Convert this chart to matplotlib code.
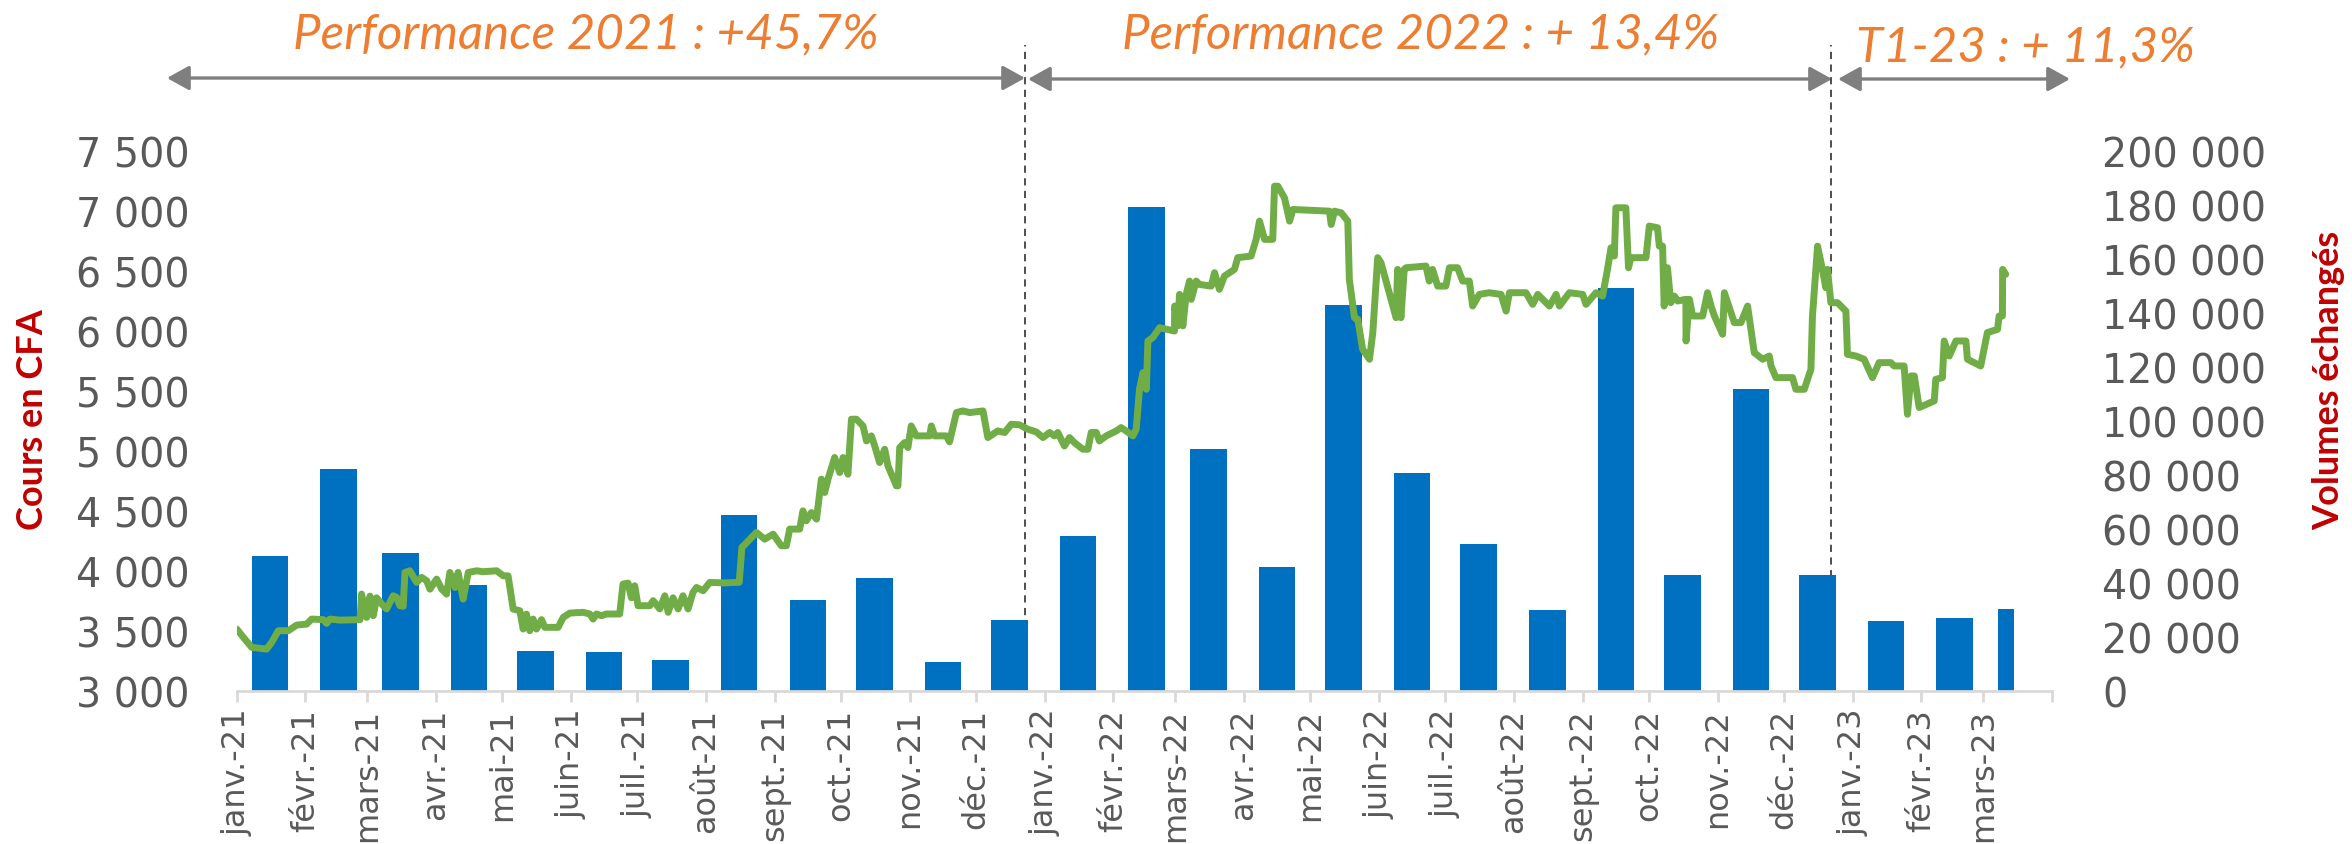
import datetime as dt
import numpy as np
import matplotlib
matplotlib.use("Agg")
import matplotlib.pyplot as plt
import matplotlib.dates as mdates
from matplotlib.patches import FancyArrowPatch
from matplotlib.transforms import blended_transform_factory

# ---------------- data ----------------
month_labels = ["janv.-21", "févr.-21", "mars-21", "avr.-21", "mai-21", "juin-21",
                "juil.-21", "août-21", "sept.-21", "oct.-21", "nov.-21", "déc.-21",
                "janv.-22", "févr.-22", "mars-22", "avr.-22", "mai-22", "juin-22",
                "juil.-22", "août-22", "sept.-22", "oct.-22", "nov.-22", "déc.-22",
                "janv.-23", "févr.-23", "mars-23"]

monthly_volumes = [50000, 82000, 51000, 39200, 14900, 14300, 11500, 65300, 33800,
                   41900, 10600, 26400, 57200, 179000, 89500, 45800, 142800, 80500,
                   54400, 29900, 149000, 43000, 111800, 43000, 25900, 27100, 30500]

# daily share price (days counted from 1 Jan 2021)
price_days = [0, 3, 6.8, 13.5, 15.8, 18.8, 23.3, 27.1, 31.6, 33.9, 39.1, 40.6, 42.1, 46.6,
              55.7, 56.4, 58.7, 60.2, 61.7, 63.2, 66.2, 67.7, 70.7, 72.2, 73.7, 75.2, 76.0,
              78.2, 81.3, 83.5, 85.8, 87.3, 90.3, 92.6, 94.8, 96.3, 98.6, 100.0, 102.3, 104.6,
              108.4, 111.3, 117.4, 120.4, 122.6, 124.9, 127.9, 129.4, 130.9, 132.4, 133.9,
              135.4, 137.7, 139.2, 145.2, 147.5, 150.5, 156.5, 159.5, 161.0, 162.5, 164.8,
              167.0, 173.0, 174.5, 176.8, 178.3, 179.8, 181.3, 186.6, 188.1, 191.1, 193.4,
              194.9, 197.1, 199.4, 201.6, 203.9, 206.1, 207.7, 210.7, 213.7, 220.0, 227.0,
              228.2, 234.8, 238.5, 242.3, 246.0, 248.3, 249.8, 254.3, 255.8, 257.3, 259.6,
              261.9, 264.1, 265.6, 267.1, 270.1, 272.4, 273.9, 276.1, 277.7, 279.9, 282.9,
              284.5, 286.7, 288.2, 290.4, 292.7, 294.2, 298.0, 298.7, 299.5, 301.7, 303.2,
              304.7, 307.0, 313.0, 313.8, 315.3, 320.5, 322.0, 325.1, 328.0, 331.1, 337.1,
              339.3, 341.6, 343.8, 346.9, 349.9, 353.6, 357.4, 361.2, 364.2, 367.2, 369.4,
              370.9, 373.9, 376.2, 378.4, 382.2, 384.5, 386.0, 388.3, 389.7, 392.8, 397.3,
              399.5, 401.8, 404.8, 406.3, 407.8, 409.4, 410.9, 411.6, 413.8, 416.9,
              423.6, 423.7, 425.1, 425.9, 427.4, 428.9, 430.4, 431.2, 433.4, 434.9, 440.2,
              441.7, 443.9, 446.2, 450.7, 452.2, 458.2, 460.5, 462.0, 464.3, 468.0, 468.8,
              470.3, 473.3, 475.6, 477.1, 493.6, 494.4, 495.9, 498.9, 501.9, 502.6, 504.9,
              506.4, 508.6, 511.7, 513.2, 515.4, 516.9, 521.4, 523.7, 524.4, 525.9, 527.4,
              528.2, 537.2, 538.7, 540.2, 542.5, 546.2, 547.8, 551.5, 553.8, 556.8, 558.3,
              561.3, 565.8, 571.1, 573.4, 574.9, 582.4, 585.4, 587.7, 593.0, 596.0, 597.5,
              602.0, 608.0, 609.5, 614.0, 617.0, 619.2, 620.8, 622.3, 623.0, 627.5, 628.7,
              629.8, 636.6, 638.1, 641.8, 642.6, 644.1, 644.8, 646.3, 647.8, 649.4, 650.9,
              654.6, 654.7, 656.2, 657.7, 662.2, 664.4, 666.0, 667.5, 671.2, 672.0, 676.5,
              679.5, 682.5, 685.5, 689.3, 692.3, 693.1, 695.3, 702.8, 704.3, 708.1, 711.1,
              711.8, 714.1, 716.3, 717.8, 718.6, 720.1, 723.1, 726.9, 727.6, 731.4, 735.1,
              738.9, 741.9, 747.2, 748.7, 753.2, 754.7, 756.3, 757.8, 760.0, 766.8, 767.5,
              770.5, 771.3, 773.6, 776.6, 781.1, 781.8, 787.8, 790.8, 795.4, 796.1, 797.6,
              797.7, 799.1]

price_values = [3516, 3447, 3363, 3349, 3405, 3502, 3502, 3549, 3557, 3599, 3594, 3563, 3599, 3590,
                3594, 3807, 3613, 3790, 3627, 3776, 3710, 3683, 3793, 3780, 3710, 3705, 3987,
                4001, 3904, 3946, 3918, 3848, 3932, 3848, 3807, 3987, 3862, 3987, 3765, 3987,
                4001, 3993, 4001, 3959, 3959, 3682, 3668, 3516, 3640, 3502, 3599,
                3516, 3594, 3530, 3530, 3613, 3649, 3655, 3641, 3599, 3641, 3627,
                3641, 3641, 3890, 3898, 3776, 3876, 3710, 3710, 3752, 3683, 3793,
                3655, 3776, 3683, 3793, 3683, 3821, 3862, 3835, 3904, 3900, 3905,
                4195, 4320, 4264, 4306, 4209, 4209, 4348, 4348, 4500, 4417, 4486,
                4431, 4764, 4653, 4764, 4944, 4819, 4944, 4805, 5263, 5263, 5207,
                5082, 5124, 5040, 4902, 5013, 4874, 4708, 4708, 5027, 5068, 5027,
                5207, 5124, 5124, 5207, 5124, 5124, 5074, 5318, 5332, 5318, 5332,
                5110, 5138, 5165, 5152, 5221, 5216, 5179, 5157, 5110, 5152, 5124,
                5152, 5040, 5110, 5068, 5013, 5013, 5152, 5152, 5082, 5124, 5165,
                5193, 5165, 5124, 5179, 5512, 5651, 5512, 5914, 5942, 6025,
                5997, 6205, 6040, 6302, 6040, 6302, 6413, 6261, 6413, 6385, 6371,
                6483, 6344, 6455, 6510, 6608, 6621, 6760, 6912, 6760, 6760, 7203,
                7203, 7106, 6912, 7009, 6995, 6884, 6995, 6981, 6912, 6427, 6108,
                6094, 5845, 5762, 5984, 6608, 6566, 6261, 6108, 6510, 6108, 6510,
                6524, 6538, 6413, 6510, 6371, 6371, 6524, 6524, 6413, 6413, 6205,
                6302, 6316, 6302, 6163, 6316, 6316, 6219, 6302, 6205, 6302, 6205,
                6316, 6302, 6219, 6316, 6288, 6510, 6690, 6621, 7023, 7023, 6524,
                6608, 6608, 6871, 6857, 6704, 6704, 6205, 6524, 6233, 6288, 6247,
                6261, 5914, 6261, 6122, 6122, 6316, 6205, 6122, 5970, 6316, 6067,
                6067, 6205, 5817, 5762, 5789, 5706, 5609, 5609, 5512, 5512, 5678,
                6122, 6704, 6510, 6358, 6510, 6233, 6233, 6163, 5803, 5789, 5762,
                5609, 5734, 5734, 5706, 5706, 5304, 5623, 5623, 5360, 5415, 5595,
                5609, 5914, 5789, 5914, 5914, 5762, 5706, 5984, 6011, 6122, 6122,
                6510, 6469]

period_titles = ["Performance 2021 : +45,7%", "Performance 2022 : + 13,4%", "T1-23 : + 11,3%"]
period_separators = ["2021-12-23", "2022-12-22"]

# ---------------- figure ----------------
W, H = 2352, 845
fig = plt.figure(figsize=(W / 100, H / 100), dpi=100)
ax = fig.add_axes([236.7 / W, 1 - 692 / H, (2052 - 236.7) / W, (692 - 151.5) / H])
ax2 = ax.twinx()
ax.set_zorder(2)
ax2.set_zorder(1)
ax.patch.set_visible(False)

GRAY = "#595959"
start = mdates.date2num(dt.date(2021, 1, 1))
month_starts = [dt.date(2021 + i // 12, i % 12 + 1, 1) for i in range(len(month_labels) + 1)]
month_nums = [mdates.date2num(m) for m in month_starts]

# volume bars (right axis), centred mid-month
bar_x = [m + 15 for m in month_nums[:len(monthly_volumes)]]
bars = ax2.bar(bar_x, monthly_volumes, width=16.5, color="#0070C0", zorder=1)
# last bar truncated at end of available data
last = bars[-1]
last_right = mdates.date2num(dt.date(2023, 3, 15))
last.set_width(last_right - last.get_x())

# price line (left axis)
ax.plot(start + np.array(price_days), price_values, color="#70AD47", lw=5.0,
        solid_joinstyle="round", solid_capstyle="round", zorder=3)

# period separators
trans = blended_transform_factory(ax2.transData, ax2.transAxes)
for d in period_separators:
    xd = mdates.date2num(dt.date.fromisoformat(d))
    ax2.plot([xd, xd], [0, (692 - 45) / 541], transform=trans, clip_on=False,
             color="#404040", lw=1.3, dashes=(4, 3), zorder=0.5)

# axes limits / ticks
ax.set_xlim(start, month_nums[-1])
ax.set_ylim(3000, 7500)
ax2.set_ylim(0, 200000)

ax.set_yticks(np.arange(3000, 7501, 500))
ax.set_yticklabels([f"{v:,}".replace(",", " ") for v in range(3000, 7501, 500)])
ax2.set_yticks(np.arange(0, 200001, 20000))
ax2.set_yticklabels([f"{v:,}".replace(",", " ") for v in range(0, 200001, 20000)])

ax.set_xticks(month_nums)
ax.set_xticklabels(month_labels + [""])

for a in (ax, ax2):
    for s in a.spines.values():
        s.set_visible(False)
ax.spines["bottom"].set_visible(True)
ax.spines["bottom"].set_color("#D9D9D9")
ax.spines["bottom"].set_linewidth(2)

ax.tick_params(axis="x", length=8, width=2, color="#D9D9D9", labelrotation=90,
               labelsize=23, labelcolor=GRAY, pad=4)
ax.tick_params(axis="y", length=0, labelsize=28.5, labelcolor=GRAY, pad=34)
ax2.tick_params(axis="y", length=0, labelsize=28.5, labelcolor=GRAY, pad=36)

# axis titles
fig.text(33 / W, 1 - 420 / H, "Cours en CFA", rotation=90, ha="center", va="center",
         color="#C00000", fontsize=26, fontweight="bold", family=["Lato", "DejaVu Sans"])
fig.text(2329 / W, 1 - 380 / H, "Volumes échangés", rotation=90, ha="center", va="center",
         color="#C00000", fontsize=26, fontweight="bold", family=["Lato", "DejaVu Sans"])

# period titles and arrows
title_pos = [(586, 34), (1421, 34), (2025, 47)]
for (px, py), txt in zip(title_pos, period_titles):
    fig.text(px / W, 1 - py / H, txt, ha="center", va="center", color="#ED7D31",
             fontsize=35.5, style="italic", family=["Lato", "DejaVu Sans"])

arrow_spans = [(167, 1025, 79), (1028, 1832, 80), (1838, 2070, 80)]
for x0, x1, yy in arrow_spans:
    arr = FancyArrowPatch((x0 / W, 1 - yy / H), (x1 / W, 1 - yy / H),
                          transform=fig.transFigure,
                          arrowstyle="<|-|>,head_length=0.9,head_width=0.5",
                          mutation_scale=15, color="#7F7F7F", lw=2.4,
                          shrinkA=0, shrinkB=0)
    fig.add_artist(arr)

fig.savefig("out.png", dpi=100)
